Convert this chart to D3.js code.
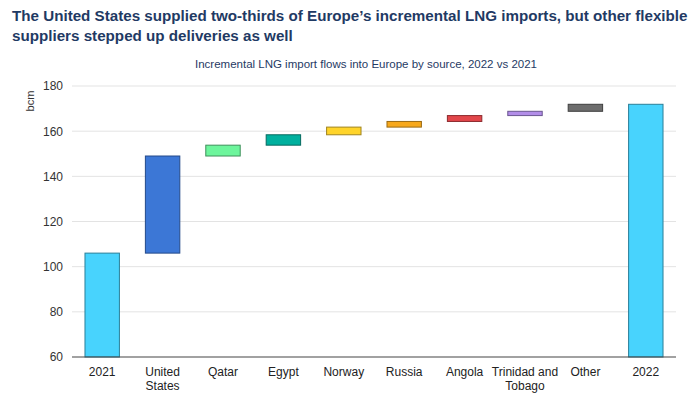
<!DOCTYPE html>
<html>
<head>
<meta charset="utf-8">
<script src="https://cdn.jsdelivr.net/npm/d3@7"></script>
<style>
  body { margin: 0; background: #fff; }
  text { font-family: "Liberation Sans", Arial, sans-serif; }
</style>
</head>
<body>
<script>
// data (bcm)
var categories = ["2021", "United States", "Qatar", "Egypt", "Norway", "Russia", "Angola", "Trinidad and Tobago", "Other", "2022"];
var labelLines = [["2021"], ["United", "States"], ["Qatar"], ["Egypt"], ["Norway"], ["Russia"], ["Angola"], ["Trinidad and", "Tobago"], ["Other"], ["2022"]];
var startValue = 106;
var increments = [43, 4.8, 4.6, 3.4, 2.5, 2.6, 1.9, 3.1];
var yTicks = [60, 80, 100, 120, 140, 160, 180];
var fills = ["#48d3fd", "#3c77d6", "#6df59c", "#00b09e", "#ffd42a", "#f7a81b", "#e2474b", "#b28de8", "#6d6d6d", "#48d3fd"];
var strokes = ["#2a7f99", "#244a8a", "#3f8f5b", "#06695f", "#a08420", "#9a6a14", "#8c2a2d", "#6a5690", "#3f3f3f", "#2a7f99"];

var width = 700, height = 398;
var margin = { top: 86, right: 24, bottom: 41, left: 72 };

var svg = d3.select("body").append("svg")
    .attr("width", width)
    .attr("height", height);

// waterfall segments
var bars = [];
var run = startValue;
bars.push({ cat: categories[0], y0: 60, y1: startValue });
increments.forEach(function(v, i) {
  bars.push({ cat: categories[i + 1], y0: run, y1: run + v });
  run += v;
});
bars.push({ cat: categories[9], y0: 60, y1: run });

var x = d3.scaleBand()
    .domain(categories)
    .range([margin.left, width - margin.right])
    .paddingInner(0.43)
    .paddingOuter(0.215);

var y = d3.scaleLinear()
    .domain([60, 180])
    .range([height - margin.bottom, margin.top]);

// title, shrunk to fit the width used in the reference
var title = svg.append("text")
    .attr("x", 12)
    .attr("y", 21)
    .attr("fill", "#1f3a64")
    .attr("font-size", "16px")
    .attr("font-weight", "bold");
var t1 = title.append("tspan").attr("x", 12).text("The United States supplied two-thirds of Europe\u2019s incremental LNG imports, but other flexible");
title.append("tspan").attr("x", 12).attr("dy", 20).text("suppliers stepped up deliveries as well");
var len = t1.node().getComputedTextLength();
if (len > 676) title.attr("font-size", (16 * 676 / len).toFixed(2) + "px");

svg.append("text")
    .attr("x", 366)
    .attr("y", 68)
    .attr("text-anchor", "middle")
    .attr("fill", "#1f3a64")
    .attr("font-size", "11.5px")
    .text("Incremental LNG import flows into Europe by source, 2022 vs 2021");

// gridlines
svg.append("g")
  .selectAll("line")
  .data(yTicks.slice(1))
  .enter().append("line")
    .attr("x1", margin.left)
    .attr("x2", width - margin.right)
    .attr("y1", function(d) { return y(d); })
    .attr("y2", function(d) { return y(d); })
    .attr("stroke", "#e3e3e3")
    .attr("stroke-width", 1);

// y axis labels
var yAxis = svg.append("g")
    .attr("transform", "translate(" + margin.left + ",0)")
    .call(d3.axisLeft(y).tickValues(yTicks).tickSize(0).tickPadding(9));
yAxis.select(".domain").remove();
yAxis.selectAll("text")
    .attr("font-family", "'Liberation Sans', Arial, sans-serif")
    .attr("font-size", "12px")
    .attr("fill", "#333");

svg.append("text")
    .attr("transform", "translate(34,101)rotate(-90)")
    .attr("text-anchor", "middle")
    .attr("font-size", "11px")
    .attr("fill", "#333")
    .text("bcm");

// bars
svg.append("g")
  .selectAll("rect")
  .data(bars)
  .enter().append("rect")
    .attr("x", function(d) { return x(d.cat); })
    .attr("width", x.bandwidth())
    .attr("y", function(d) { return y(d.y1); })
    .attr("height", function(d) { return y(d.y0) - y(d.y1); })
    .attr("fill", function(d, i) { return fills[i]; })
    .attr("stroke", function(d, i) { return strokes[i]; })
    .attr("stroke-width", 1);

// baseline
svg.append("line")
    .attr("x1", margin.left)
    .attr("x2", width - margin.right)
    .attr("y1", y(60))
    .attr("y2", y(60))
    .attr("stroke", "#444")
    .attr("stroke-width", 1.2);

// x labels
var xl = svg.append("g")
  .selectAll("text")
  .data(categories)
  .enter().append("text")
    .attr("x", function(d) { return x(d) + x.bandwidth() / 2; })
    .attr("y", y(60) + 19)
    .attr("text-anchor", "middle")
    .attr("font-size", "12px")
    .attr("fill", "#222");
xl.each(function(d, i) {
  var t = d3.select(this);
  labelLines[i].forEach(function(line, j) {
    t.append("tspan")
      .attr("x", x(d) + x.bandwidth() / 2)
      .attr("dy", j === 0 ? 0 : 14)
      .text(line);
  });
});
</script>
</body>
</html>
